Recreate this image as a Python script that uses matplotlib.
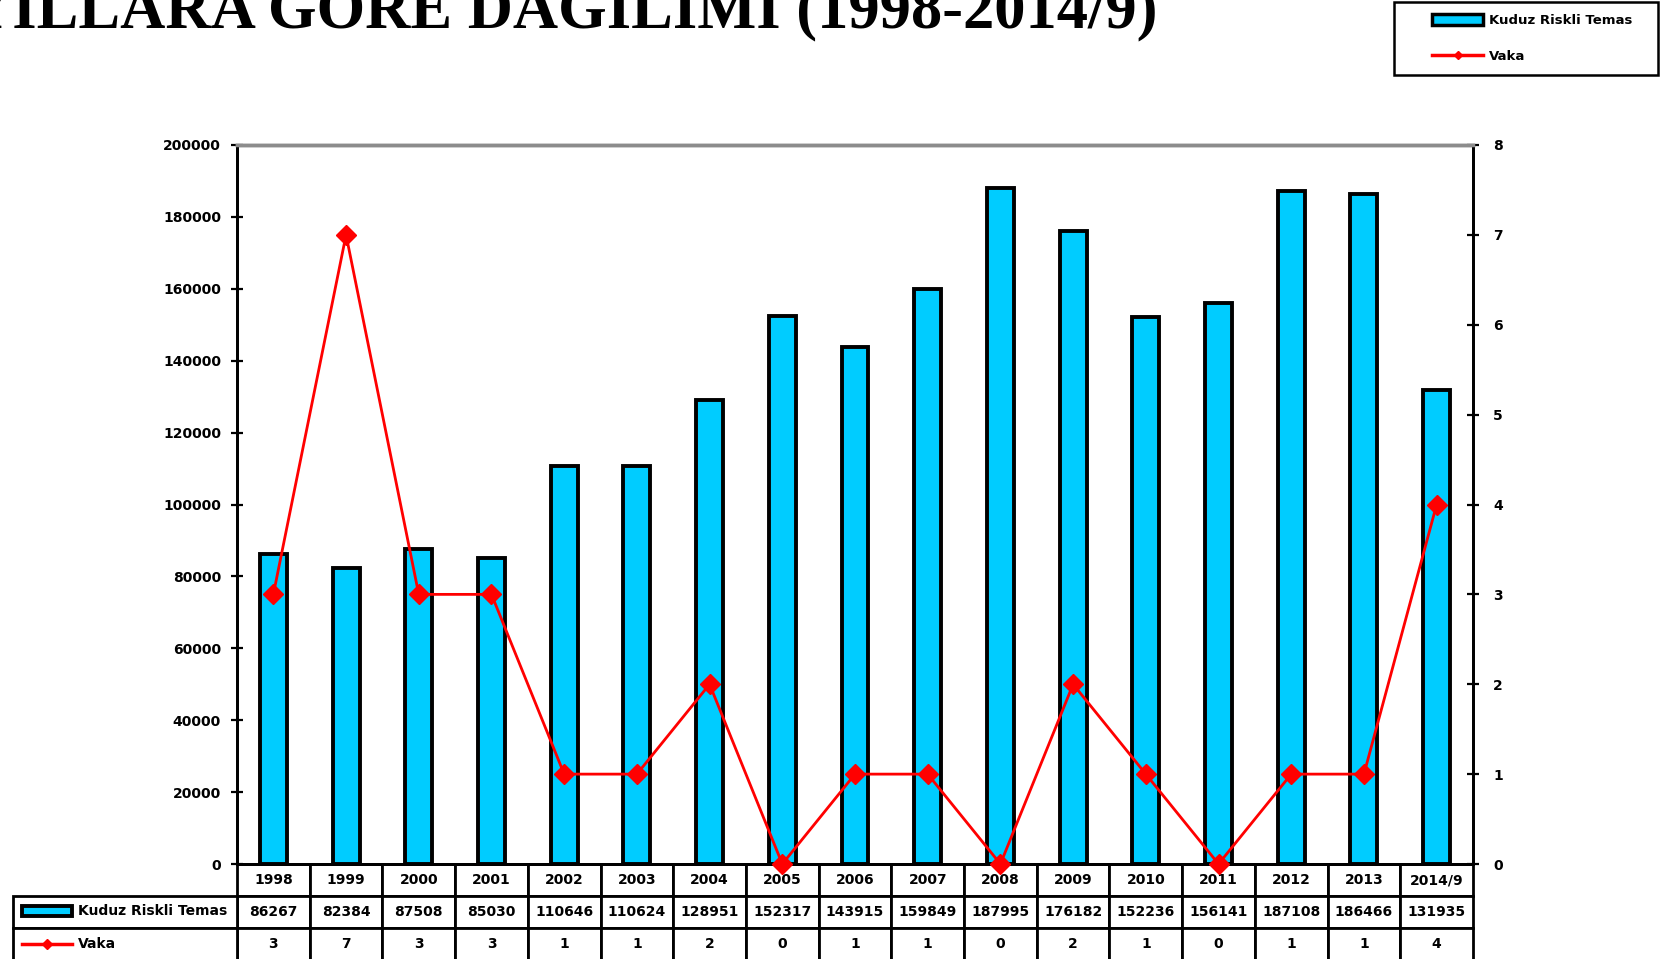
import numpy as np
import matplotlib
matplotlib.use("Agg")
import matplotlib.pyplot as plt
from matplotlib.patches import Rectangle
from matplotlib.lines import Line2D

# Data
years = ['1998', '1999', '2000', '2001', '2002', '2003', '2004', '2005', '2006',
         '2007', '2008', '2009', '2010', '2011', '2012', '2013', '2014/9']
temas = [86267, 82384, 87508, 85030, 110646, 110624, 128951, 152317, 143915,
         159849, 187995, 176182, 152236, 156141, 187108, 186466, 131935]
vaka = [3, 7, 3, 3, 1, 1, 2, 0, 1, 1, 0, 2, 1, 0, 1, 1, 4]
labels = ['Kuduz Riskli Temas', 'Vaka']
title = 'YILLARA GÖRE DAĞILIMI (1998-2014/9)'
bar_color = '#00CCFF'
line_color = '#FF0000'

W, H = 1665, 959
fig = plt.figure(figsize=(W / 100, H / 100), dpi=100)
fig.patch.set_facecolor('white')

# axes box in pixels
L, R, T, B = 237, 1473, 145, 864
ax = fig.add_axes([L / W, 1 - B / H, (R - L) / W, (B - T) / H])
ax2 = ax.twinx()

x = np.arange(len(years))
ax.bar(x, temas, width=0.37, color=bar_color, edgecolor='black',
       linewidth=2.8, zorder=2)
ax2.plot(x, vaka, color=line_color, lw=2, marker='D', ms=10,
         markeredgecolor=line_color, zorder=3, clip_on=False)

ax.set_xlim(-0.5, len(years) - 0.5)
ax.set_ylim(0, 200000)
ax.set_yticks(np.arange(0, 200001, 20000))
ax2.set_ylim(0, 8)
ax2.set_yticks(range(0, 9))
ax.set_xticks([])
ax2.set_xticks([])

for a in (ax, ax2):
    a.tick_params(axis='y', direction='inout', length=9, width=1.6,
                  labelsize=10, pad=7)
    for lab in a.get_yticklabels():
        lab.set_fontweight('bold')
    a.spines['top'].set_color('#8c8c8c')
    a.spines['top'].set_linewidth(2.5)
    a.spines['left'].set_linewidth(2)
    a.spines['right'].set_linewidth(2)
    a.spines['bottom'].set_linewidth(2)
ax2.tick_params(axis='y', pad=10)

# data table under the axes
th = (H + 1 - B) / (B - T)
rows = [years, [str(v) for v in temas], [str(v) for v in vaka]]
tbl = ax.table(cellText=rows, cellLoc='center', bbox=[0, -th, 1, th])
tbl.auto_set_font_size(False)
tbl.set_fontsize(10)
for (r, c), cell in tbl.get_celld().items():
    cell.set_linewidth(2)
    cell.get_text().set_fontweight('bold')

# row label column
lw_ax = (L - 13) / (R - L)
lab_tbl = ax.table(cellText=[[''], [''], ['']], bbox=[-lw_ax, -th, lw_ax, th])
for (r, c), cell in lab_tbl.get_celld().items():
    cell.set_linewidth(2)
    if r == 0:
        cell.visible_edges = ''


def fx(px):
    return (px - L) / (R - L)


def fy(py):
    return (B - py) / (B - T)


row1_y = 911
row2_y = 944
ax.add_patch(Rectangle((fx(22), fy(row1_y + 5)), fx(72) - fx(22), fy(row1_y - 5) - fy(row1_y + 5),
                       transform=ax.transAxes, facecolor=bar_color, edgecolor='black',
                       linewidth=2.8, clip_on=False))
ax.text(fx(78), fy(row1_y), labels[0], transform=ax.transAxes,
        ha='left', va='center', fontsize=10, fontweight='bold')
ax.plot([fx(22), fx(72)], [fy(row2_y), fy(row2_y)], transform=ax.transAxes,
        color=line_color, lw=2.5, clip_on=False)
ax.plot([fx(47)], [fy(row2_y)], transform=ax.transAxes, marker='D', ms=5,
        color=line_color, clip_on=False)
ax.text(fx(78), fy(row2_y), labels[1], transform=ax.transAxes,
        ha='left', va='center', fontsize=10, fontweight='bold')

# legend: frame drawn separately, entries placed inside it
fig.patches.append(Rectangle((1394 / W, 1 - 75 / H), (1658 - 1394) / W, 73 / H,
                             transform=fig.transFigure, facecolor='white',
                             edgecolor='black', linewidth=1.8, zorder=5))
handles = [Rectangle((0, 0), 1, 1, facecolor=bar_color, edgecolor='black', linewidth=2.5),
           Line2D([], [], color=line_color, lw=2.5, marker='D', ms=4)]
leg = fig.legend(handles, labels, loc='upper left',
                 bbox_to_anchor=(1432 / W, 1 - 14 / H), frameon=False,
                 prop={'weight': 'bold', 'size': 9.5}, handlelength=3.9,
                 handleheight=0.85, borderpad=0, labelspacing=1.75,
                 borderaxespad=0, handletextpad=0.4)
leg.set_zorder(6)

# title, cut at the top edge like the reference
fig.text(1158 / W, 1 - 28 / H, title, ha='right', va='baseline',
         fontsize=45, fontweight='bold', family='Liberation Serif')

fig.savefig('out.png', dpi=100, facecolor='white')
